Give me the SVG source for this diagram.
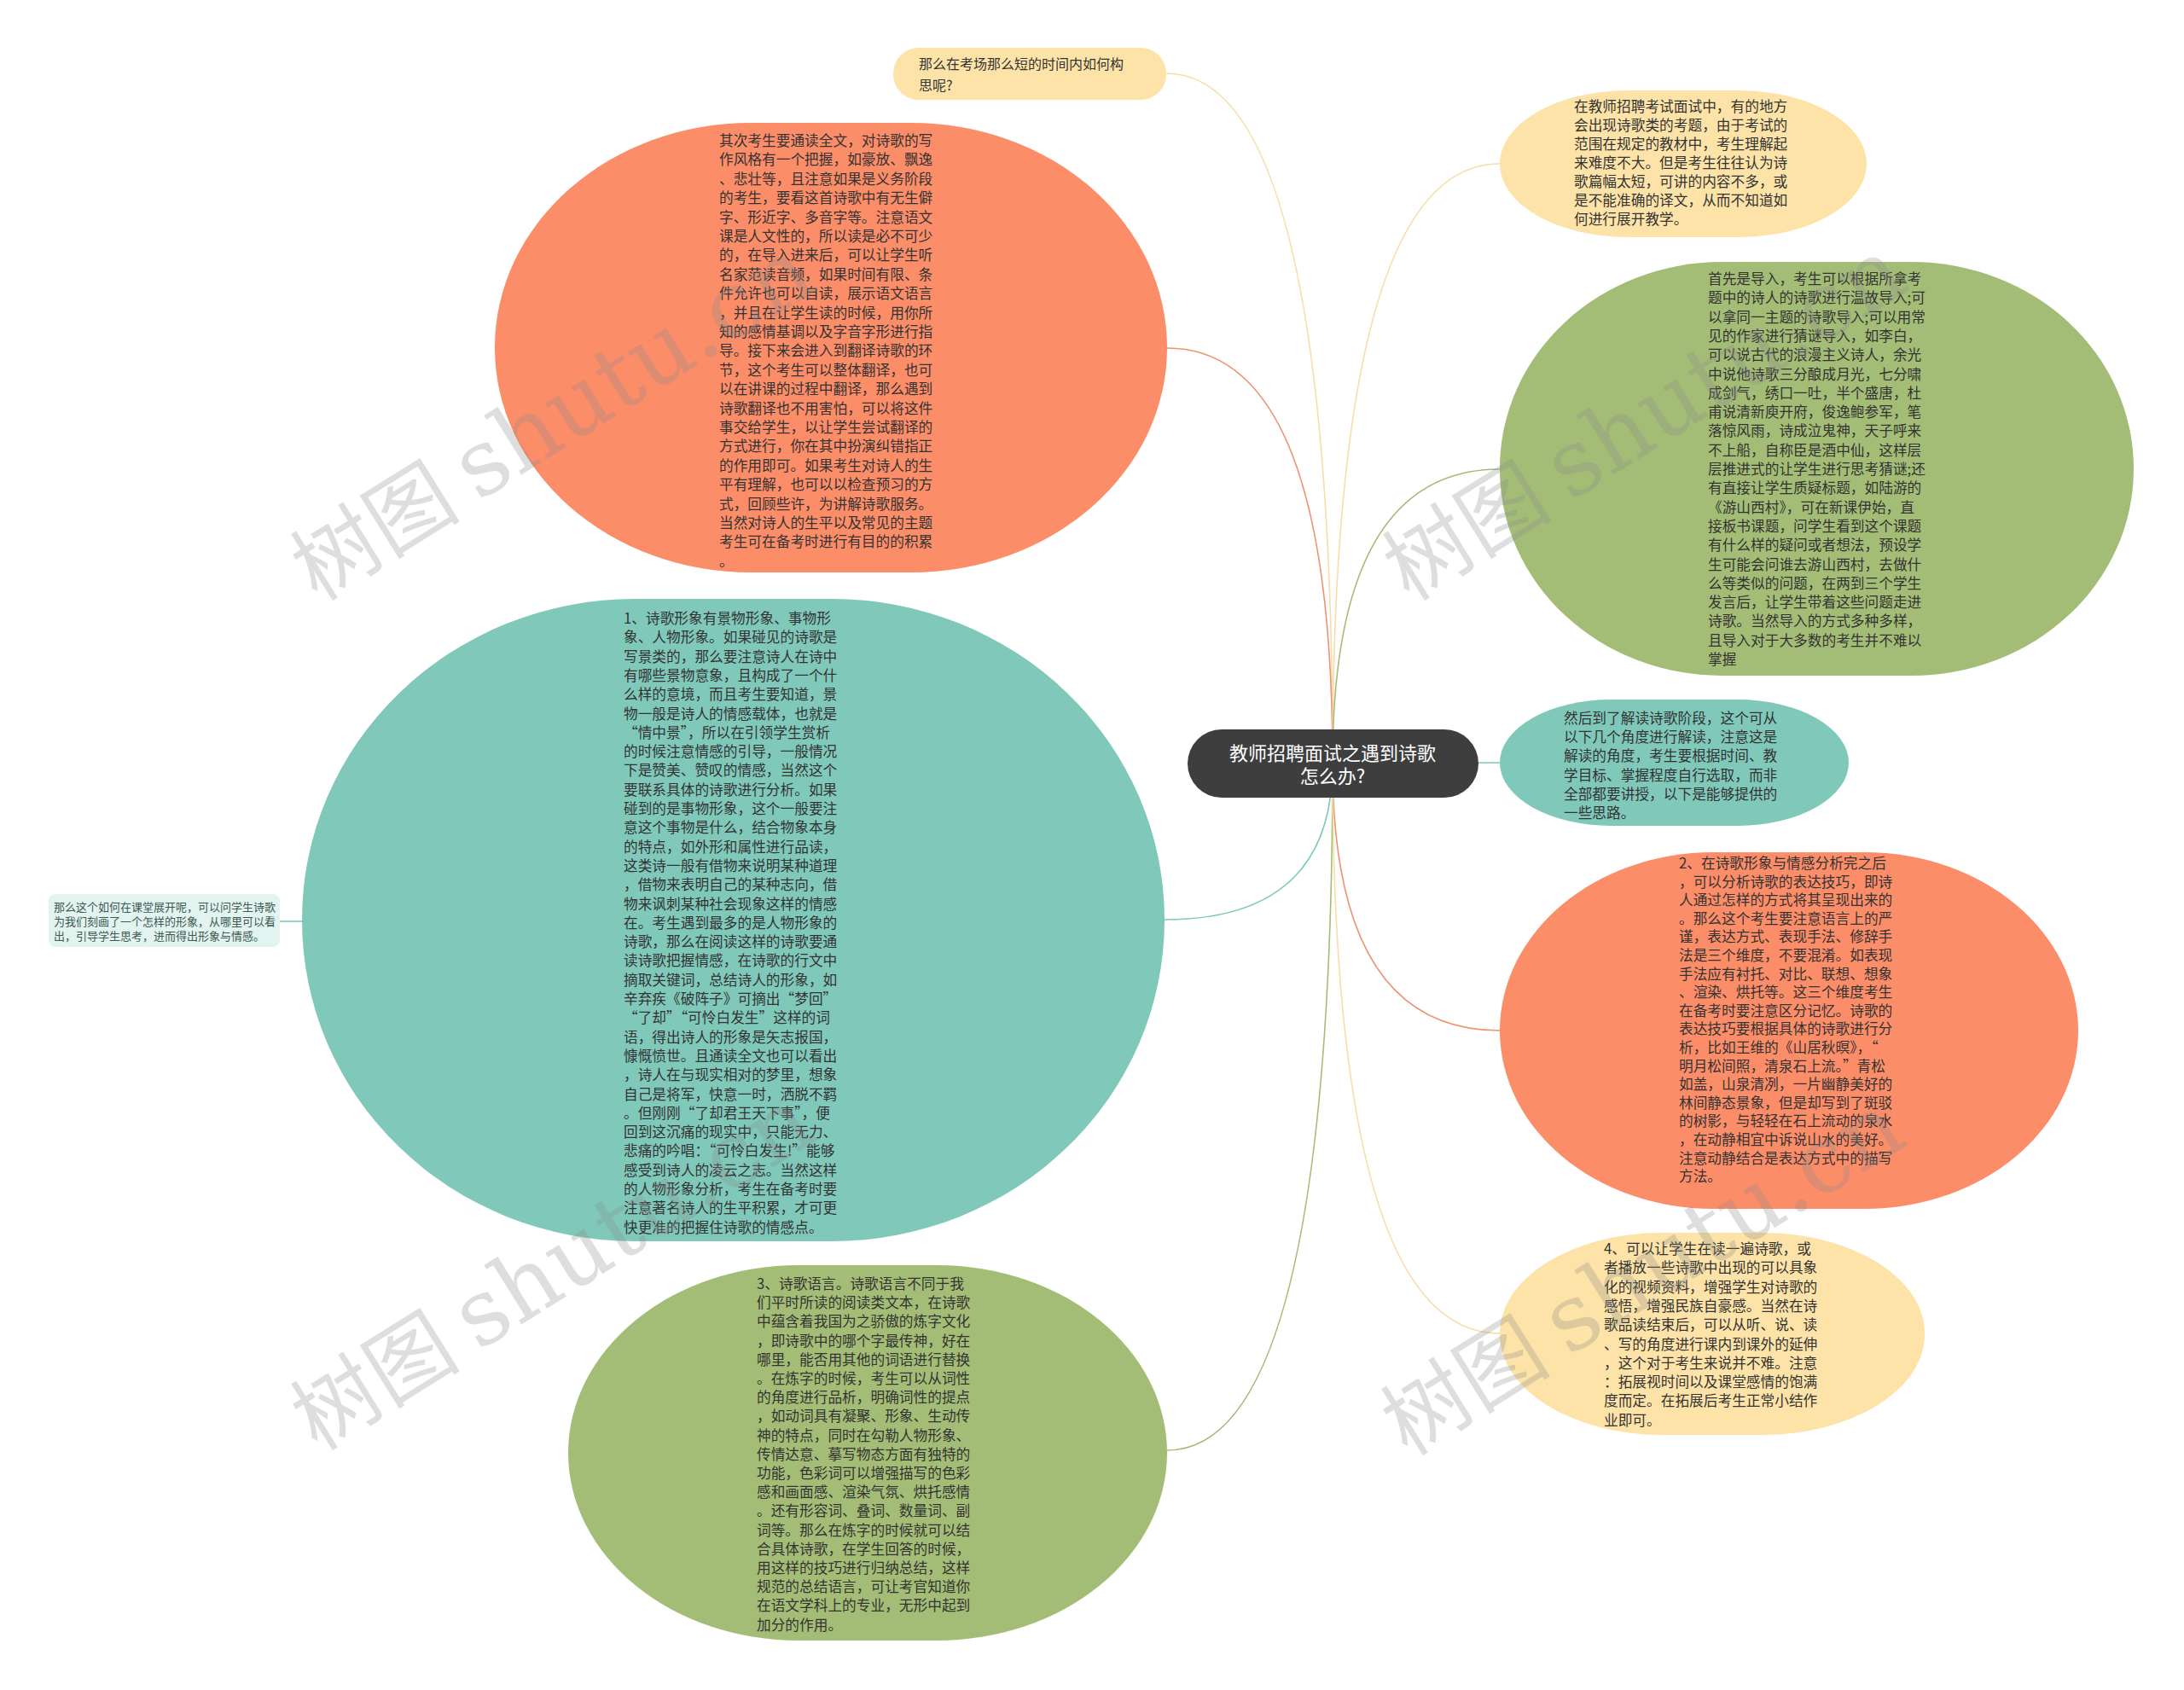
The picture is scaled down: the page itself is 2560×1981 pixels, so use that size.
<svg xmlns="http://www.w3.org/2000/svg" width="2560" height="1981" viewBox="0 0 2560 1981">
<style>
.t{font-family:"Noto Sans CJK SC","Noto Sans",sans-serif;font-size:16.7px;fill:#333;}
.ts{font-family:"Noto Sans CJK SC","Noto Sans",sans-serif;font-size:13px;fill:#3b5a52;}
.tc{font-family:"Noto Sans CJK SC","Noto Sans",sans-serif;font-size:22px;fill:#fff;text-anchor:middle;}
.y{fill:#fde3a7;}
.o{fill:#fc8d69;}
.g{fill:#a4bd76;}
.c{fill:#80c9ba;}
.lk{fill:none;stroke-width:1.6;}
.wm{font-family:"Noto Sans CJK SC",sans-serif;font-size:100px;fill:#8a8a8a;opacity:0.28;}
.wl{font-family:"DejaVu Serif","Liberation Serif",serif;font-size:108px;}
</style>
<rect width="2560" height="1981" fill="#fff"/>
<g id="connectors">
<path class="lk" stroke="#f6dea8" d="M1562 895 Q1562 86 1367 86"/>
<path class="lk" stroke="#ee9272" d="M1562 895 Q1562 408 1368 408"/>
<path class="lk" stroke="#80c9ba" d="M1562 895 Q1562 1078 1365 1078"/>
<path class="lk" stroke="#a4bd76" d="M1562 895 Q1562 1700 1368 1700"/>
<path class="lk" stroke="#f6dea8" d="M1562 895 Q1562 192 1758 192"/>
<path class="lk" stroke="#a4bd76" d="M1562 895 Q1562 550 1758 550"/>
<path class="lk" stroke="#80c9ba" d="M1562 895 L1758 894"/>
<path class="lk" stroke="#ee9272" d="M1562 895 Q1562 1208 1758 1208"/>
<path class="lk" stroke="#f6dea8" d="M1562 895 Q1562 1563 1758 1563"/>
<path class="lk" stroke="#80c9ba" d="M354 1080 L328 1080"/>
</g>
<g id="n-top-question">
<rect class="y" x="1047" y="56" width="320" height="61" rx="30"/>
<text class="t" style="font-size:16px"><tspan x="1077" y="81">那么在考场那么短的时间内如何构</tspan><tspan x="1077" y="106">思呢?</tspan></text>
</g>
<g id="n-read">
<rect class="o" x="580" y="144" width="788" height="527" rx="300" ry="263"/>
<text class="t">
<tspan x="843" y="171">其次考生要通读全文，对诗歌的写</tspan>
<tspan x="843" y="193.4">作风格有一个把握，如豪放、飘逸</tspan>
<tspan x="843" y="215.8">、悲壮等，且注意如果是义务阶段</tspan>
<tspan x="843" y="238.2">的考生，要看这首诗歌中有无生僻</tspan>
<tspan x="843" y="260.6">字、形近字、多音字等。注意语文</tspan>
<tspan x="843" y="283">课是人文性的，所以读是必不可少</tspan>
<tspan x="843" y="305.4">的，在导入进来后，可以让学生听</tspan>
<tspan x="843" y="327.8">名家范读音频，如果时间有限、条</tspan>
<tspan x="843" y="350.2">件允许也可以自读，展示语文语言</tspan>
<tspan x="843" y="372.6">，并且在让学生读的时候，用你所</tspan>
<tspan x="843" y="395">知的感情基调以及字音字形进行指</tspan>
<tspan x="843" y="417.4">导。接下来会进入到翻译诗歌的环</tspan>
<tspan x="843" y="439.8">节，这个考生可以整体翻译，也可</tspan>
<tspan x="843" y="462.2">以在讲课的过程中翻译，那么遇到</tspan>
<tspan x="843" y="484.6">诗歌翻译也不用害怕，可以将这件</tspan>
<tspan x="843" y="507">事交给学生，以让学生尝试翻译的</tspan>
<tspan x="843" y="529.4">方式进行，你在其中扮演纠错指正</tspan>
<tspan x="843" y="551.8">的作用即可。如果考生对诗人的生</tspan>
<tspan x="843" y="574.2">平有理解，也可以以检查预习的方</tspan>
<tspan x="843" y="596.6">式，回顾些许，为讲解诗歌服务。</tspan>
<tspan x="843" y="619">当然对诗人的生平以及常见的主题</tspan>
<tspan x="843" y="641.4">考生可在备考时进行有目的的积累</tspan>
<tspan x="843" y="663.8">。</tspan>
</text>
</g>
<g id="n-image">
<rect class="c" x="354" y="702" width="1011" height="753" rx="390" ry="376"/>
<text class="t">
<tspan x="731" y="731">1、诗歌形象有景物形象、事物形</tspan>
<tspan x="731" y="753.3">象、人物形象。如果碰见的诗歌是</tspan>
<tspan x="731" y="775.6">写景类的，那么要注意诗人在诗中</tspan>
<tspan x="731" y="797.9">有哪些景物意象，且构成了一个什</tspan>
<tspan x="731" y="820.2">么样的意境，而且考生要知道，景</tspan>
<tspan x="731" y="842.5">物一般是诗人的情感载体，也就是</tspan>
<tspan x="731" y="864.8">“情中景”，所以在引领学生赏析</tspan>
<tspan x="731" y="887.1">的时候注意情感的引导，一般情况</tspan>
<tspan x="731" y="909.4">下是赞美、赞叹的情感，当然这个</tspan>
<tspan x="731" y="931.7">要联系具体的诗歌进行分析。如果</tspan>
<tspan x="731" y="954">碰到的是事物形象，这个一般要注</tspan>
<tspan x="731" y="976.3">意这个事物是什么，结合物象本身</tspan>
<tspan x="731" y="998.6">的特点，如外形和属性进行品读，</tspan>
<tspan x="731" y="1020.9">这类诗一般有借物来说明某种道理</tspan>
<tspan x="731" y="1043.2">，借物来表明自己的某种志向，借</tspan>
<tspan x="731" y="1065.5">物来讽刺某种社会现象这样的情感</tspan>
<tspan x="731" y="1087.8">在。考生遇到最多的是人物形象的</tspan>
<tspan x="731" y="1110.1">诗歌，那么在阅读这样的诗歌要通</tspan>
<tspan x="731" y="1132.4">读诗歌把握情感，在诗歌的行文中</tspan>
<tspan x="731" y="1154.7">摘取关键词，总结诗人的形象，如</tspan>
<tspan x="731" y="1177">辛弃疾《破阵子》可摘出“梦回”</tspan>
<tspan x="731" y="1199.3">“了却”“可怜白发生”这样的词</tspan>
<tspan x="731" y="1221.6">语，得出诗人的形象是矢志报国，</tspan>
<tspan x="731" y="1243.9">慷慨愤世。且通读全文也可以看出</tspan>
<tspan x="731" y="1266.2">，诗人在与现实相对的梦里，想象</tspan>
<tspan x="731" y="1288.5">自己是将军，快意一时，洒脱不羁</tspan>
<tspan x="731" y="1310.8">。但刚刚“了却君王天下事”，便</tspan>
<tspan x="731" y="1333.1">回到这沉痛的现实中，只能无力、</tspan>
<tspan x="731" y="1355.4">悲痛的吟唱：“可怜白发生!”能够</tspan>
<tspan x="731" y="1377.7">感受到诗人的凌云之志。当然这样</tspan>
<tspan x="731" y="1400">的人物形象分析，考生在备考时要</tspan>
<tspan x="731" y="1422.3">注意著名诗人的生平积累，才可更</tspan>
<tspan x="731" y="1444.6">快更准的把握住诗歌的情感点。</tspan>
</text>
</g>
<g id="n-image-class">
<rect x="57" y="1048" width="271" height="62" rx="8" fill="#e3f3ef"/>
<text class="ts"><tspan x="63" y="1067.5">那么这个如何在课堂展开呢，可以问学生诗歌</tspan><tspan x="63" y="1084.5">为我们刻画了一个怎样的形象，从哪里可以看</tspan><tspan x="63" y="1101.5">出，引导学生思考，进而得出形象与情感。</tspan></text>
</g>
<g id="n-language">
<rect class="g" x="666" y="1483" width="702" height="440" rx="270" ry="220"/>
<text class="t">
<tspan x="887" y="1511">3、诗歌语言。诗歌语言不同于我</tspan>
<tspan x="887" y="1533.2">们平时所读的阅读类文本，在诗歌</tspan>
<tspan x="887" y="1555.4">中蕴含着我国为之骄傲的炼字文化</tspan>
<tspan x="887" y="1577.6">，即诗歌中的哪个字最传神，好在</tspan>
<tspan x="887" y="1599.8">哪里，能否用其他的词语进行替换</tspan>
<tspan x="887" y="1622">。在炼字的时候，考生可以从词性</tspan>
<tspan x="887" y="1644.2">的角度进行品析，明确词性的提点</tspan>
<tspan x="887" y="1666.4">，如动词具有凝聚、形象、生动传</tspan>
<tspan x="887" y="1688.6">神的特点，同时在勾勒人物形象、</tspan>
<tspan x="887" y="1710.8">传情达意、摹写物态方面有独特的</tspan>
<tspan x="887" y="1733">功能，色彩词可以增强描写的色彩</tspan>
<tspan x="887" y="1755.2">感和画面感、渲染气氛、烘托感情</tspan>
<tspan x="887" y="1777.4">。还有形容词、叠词、数量词、副</tspan>
<tspan x="887" y="1799.6">词等。那么在炼字的时候就可以结</tspan>
<tspan x="887" y="1821.8">合具体诗歌，在学生回答的时候，</tspan>
<tspan x="887" y="1844">用这样的技巧进行归纳总结，这样</tspan>
<tspan x="887" y="1866.2">规范的总结语言，可让考官知道你</tspan>
<tspan x="887" y="1888.4">在语文学科上的专业，无形中起到</tspan>
<tspan x="887" y="1910.6">加分的作用。</tspan>
</text>
</g>
<g id="n-center">
<rect x="1392" y="855" width="341" height="80" rx="40" fill="#3e3e3e"/>
<text class="tc"><tspan x="1562" y="891">教师招聘面试之遇到诗歌</tspan><tspan x="1562" y="918">怎么办?</tspan></text>
</g>
<g id="n-intro">
<rect class="y" x="1758" y="106" width="430" height="172" rx="150" ry="86"/>
<text class="t">
<tspan x="1845" y="131">在教师招聘考试面试中，有的地方</tspan>
<tspan x="1845" y="153">会出现诗歌类的考题，由于考试的</tspan>
<tspan x="1845" y="175">范围在规定的教材中，考生理解起</tspan>
<tspan x="1845" y="197">来难度不大。但是考生往往认为诗</tspan>
<tspan x="1845" y="219">歌篇幅太短，可讲的内容不多，或</tspan>
<tspan x="1845" y="241">是不能准确的译文，从而不知道如</tspan>
<tspan x="1845" y="263">何进行展开教学。</tspan>
</text>
</g>
<g id="n-lead-in">
<rect class="g" x="1758" y="307" width="743" height="485" rx="260" ry="242"/>
<text class="t">
<tspan x="2002" y="333">首先是导入，考生可以根据所拿考</tspan>
<tspan x="2002" y="355.3">题中的诗人的诗歌进行温故导入;可</tspan>
<tspan x="2002" y="377.6">以拿同一主题的诗歌导入;可以用常</tspan>
<tspan x="2002" y="399.9">见的作家进行猜谜导入，如李白，</tspan>
<tspan x="2002" y="422.2">可以说古代的浪漫主义诗人，余光</tspan>
<tspan x="2002" y="444.5">中说他诗歌三分酿成月光，七分啸</tspan>
<tspan x="2002" y="466.8">成剑气，绣口一吐，半个盛唐，杜</tspan>
<tspan x="2002" y="489.1">甫说清新庾开府，俊逸鲍参军，笔</tspan>
<tspan x="2002" y="511.4">落惊风雨，诗成泣鬼神，天子呼来</tspan>
<tspan x="2002" y="533.7">不上船，自称臣是酒中仙，这样层</tspan>
<tspan x="2002" y="556">层推进式的让学生进行思考猜谜;还</tspan>
<tspan x="2002" y="578.3">有直接让学生质疑标题，如陆游的</tspan>
<tspan x="2002" y="600.6">《游山西村》，可在新课伊始，直</tspan>
<tspan x="2002" y="622.9">接板书课题，问学生看到这个课题</tspan>
<tspan x="2002" y="645.2">有什么样的疑问或者想法，预设学</tspan>
<tspan x="2002" y="667.5">生可能会问谁去游山西村，去做什</tspan>
<tspan x="2002" y="689.8">么等类似的问题，在两到三个学生</tspan>
<tspan x="2002" y="712.1">发言后，让学生带着这些问题走进</tspan>
<tspan x="2002" y="734.4">诗歌。当然导入的方式多种多样，</tspan>
<tspan x="2002" y="756.7">且导入对于大多数的考生并不难以</tspan>
<tspan x="2002" y="779">掌握</tspan>
</text>
</g>
<g id="n-interpret">
<rect class="c" x="1758" y="820" width="409" height="148" rx="130" ry="74"/>
<text class="t">
<tspan x="1833" y="848">然后到了解读诗歌阶段，这个可从</tspan>
<tspan x="1833" y="870.2">以下几个角度进行解读，注意这是</tspan>
<tspan x="1833" y="892.4">解读的角度，考生要根据时间、教</tspan>
<tspan x="1833" y="914.6">学目标、掌握程度自行选取，而非</tspan>
<tspan x="1833" y="936.8">全部都要讲授，以下是能够提供的</tspan>
<tspan x="1833" y="959">一些思路。</tspan>
</text>
</g>
<g id="n-technique">
<rect class="o" x="1758" y="999" width="678" height="418" rx="250" ry="209"/>
<text class="t">
<tspan x="1968" y="1018">2、在诗歌形象与情感分析完之后</tspan>
<tspan x="1968" y="1039.6">，可以分析诗歌的表达技巧，即诗</tspan>
<tspan x="1968" y="1061.2">人通过怎样的方式将其呈现出来的</tspan>
<tspan x="1968" y="1082.8">。那么这个考生要注意语言上的严</tspan>
<tspan x="1968" y="1104.4">谨，表达方式、表现手法、修辞手</tspan>
<tspan x="1968" y="1126">法是三个维度，不要混淆。如表现</tspan>
<tspan x="1968" y="1147.6">手法应有衬托、对比、联想、想象</tspan>
<tspan x="1968" y="1169.2">、渲染、烘托等。这三个维度考生</tspan>
<tspan x="1968" y="1190.8">在备考时要注意区分记忆。诗歌的</tspan>
<tspan x="1968" y="1212.4">表达技巧要根据具体的诗歌进行分</tspan>
<tspan x="1968" y="1234">析，比如王维的《山居秋暝》，“</tspan>
<tspan x="1968" y="1255.6">明月松间照，清泉石上流。”青松</tspan>
<tspan x="1968" y="1277.2">如盖，山泉清冽，一片幽静美好的</tspan>
<tspan x="1968" y="1298.8">林间静态景象，但是却写到了斑驳</tspan>
<tspan x="1968" y="1320.4">的树影，与轻轻在石上流动的泉水</tspan>
<tspan x="1968" y="1342">，在动静相宜中诉说山水的美好。</tspan>
<tspan x="1968" y="1363.6">注意动静结合是表达方式中的描写</tspan>
<tspan x="1968" y="1385.2">方法。</tspan>
</text>
</g>
<g id="n-extend">
<rect class="y" x="1758" y="1445" width="498" height="237" rx="190" ry="118"/>
<text class="t">
<tspan x="1880" y="1470">4、可以让学生在读一遍诗歌，或</tspan>
<tspan x="1880" y="1492.3">者播放一些诗歌中出现的可以具象</tspan>
<tspan x="1880" y="1514.6">化的视频资料，增强学生对诗歌的</tspan>
<tspan x="1880" y="1536.9">感悟，增强民族自豪感。当然在诗</tspan>
<tspan x="1880" y="1559.2">歌品读结束后，可以从听、说、读</tspan>
<tspan x="1880" y="1581.5">、写的角度进行课内到课外的延伸</tspan>
<tspan x="1880" y="1603.8">，这个对于考生来说并不难。注意</tspan>
<tspan x="1880" y="1626.1">：拓展视时间以及课堂感情的饱满</tspan>
<tspan x="1880" y="1648.4">度而定。在拓展后考生正常小结作</tspan>
<tspan x="1880" y="1670.7">业即可。</tspan>
</text>
</g>
<g id="watermarks">
<text class="wm" transform="translate(372 706) rotate(-32)">树图 <tspan class="wl">shutu.cn</tspan></text>
<text class="wm" transform="translate(1652 706) rotate(-32)">树图 <tspan class="wl">shutu.cn</tspan></text>
<text class="wm" transform="translate(372 1702) rotate(-32)">树图 <tspan class="wl">shutu.cn</tspan></text>
<text class="wm" transform="translate(1650 1708) rotate(-32)">树图 <tspan class="wl">shutu.cn</tspan></text>
</g>
</svg>
